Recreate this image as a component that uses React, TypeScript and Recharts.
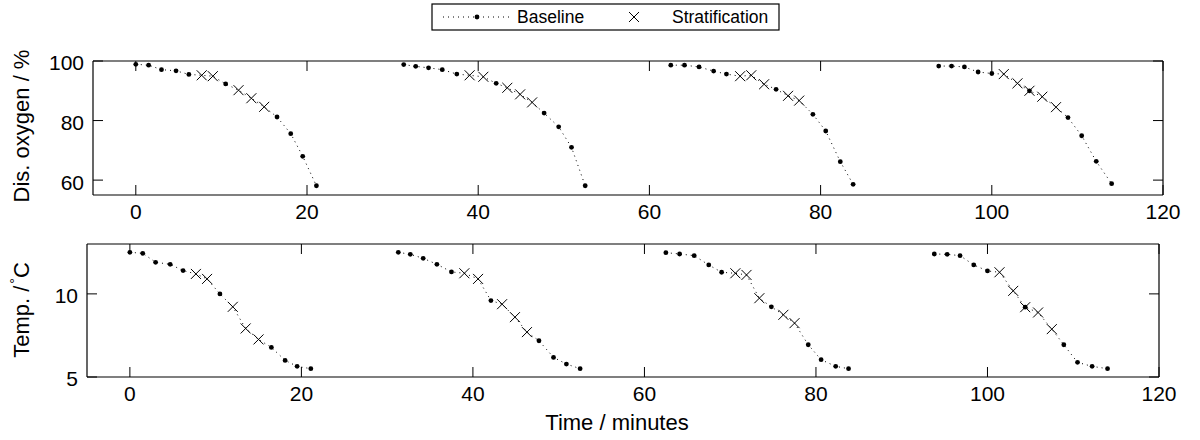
import React from 'react';
import { LineChart, Line, XAxis, YAxis, ReferenceLine } from 'recharts';

// four cooling runs, each sampled about every 1.5 minutes
const cycleTimes = [
  [0, 1.5, 3.0, 4.7, 6.2, 7.7, 9.0, 10.5, 12.0, 13.5, 15.0, 16.5, 18.1, 19.5, 21.1],
  [31.3, 32.7, 34.2, 35.8, 37.5, 39.0, 40.6, 42.1, 43.4, 44.9, 46.3, 47.7, 49.4, 50.9, 52.5],
  [62.5, 64.1, 65.8, 67.5, 69.0, 70.6, 71.9, 73.4, 74.8, 76.2, 77.5, 79.1, 80.6, 82.3, 83.8],
  [93.8, 95.3, 96.8, 98.4, 100.0, 101.4, 103.0, 104.4, 105.9, 107.5, 108.9, 110.5, 112.2, 114.0],
];

const oxygen = [
  [98.9, 98.6, 97.1, 96.7, 95.5, 95.2, 94.9, 92.3, 90.2, 87.5, 84.6, 81.2, 75.6, 68.0, 58.1],
  [98.8, 98.2, 97.7, 97.1, 95.6, 95.2, 94.7, 92.5, 91.0, 88.8, 86.1, 82.5, 77.9, 71.0, 58.1],
  [98.6, 98.6, 98.0, 96.6, 95.6, 94.9, 95.2, 92.2, 90.5, 88.3, 86.7, 82.1, 76.5, 66.2, 58.6],
  [98.3, 98.3, 98.0, 96.3, 95.8, 95.6, 92.5, 90.0, 88.0, 84.5, 81.0, 74.9, 66.3, 58.8],
];

const temperature = [
  [12.5, 12.44, 11.9, 11.78, 11.4, 11.2, 10.9, 10.0, 9.22, 7.92, 7.26, 6.78, 6.0, 5.64, 5.5],
  [12.5, 12.38, 12.14, 11.78, 11.32, 11.24, 10.9, 9.6, 9.38, 8.6, 7.7, 7.18, 6.18, 5.78, 5.5],
  [12.48, 12.4, 12.3, 11.74, 11.3, 11.24, 11.14, 9.74, 9.22, 8.74, 8.24, 6.94, 6.04, 5.64, 5.5],
  [12.4, 12.38, 12.3, 11.74, 11.38, 11.3, 10.18, 9.2, 8.88, 7.88, 6.94, 5.88, 5.64, 5.5],
];

// sample indices flagged as stratification, per run
const stratIdx = [
  [5, 6, 8, 9, 10],
  [5, 6, 8, 9, 10],
  [5, 6, 7, 9, 10],
  [5, 6, 7, 8, 9],
];
// baseline dots that still show under a cross: [run, index]
const extraDots = [[3, 7]];

const xTicks = [0, 20, 40, 60, 80, 100, 120];
const o2Ticks = [60, 80, 100];
const tempTicks = [5, 10];

const rows: any[] = [];
cycleTimes.forEach((ts, c) => {
  if (c > 0) {
    const prev = cycleTimes[c - 1];
    rows.push({ t: (prev[prev.length - 1] + ts[0]) / 2, o2: null, temp: null });
  }
  ts.forEach((t, i) => {
    const strat = stratIdx[c].includes(i);
    const dot = !strat || extraDots.some(([ec, ei]) => ec === c && ei === i);
    rows.push({
      t,
      o2: oxygen[c][i],
      temp: temperature[c][i],
      o2Dot: dot ? oxygen[c][i] : null,
      tempDot: dot ? temperature[c][i] : null,
      o2Strat: strat ? oxygen[c][i] : null,
      tempStrat: strat ? temperature[c][i] : null,
    });
  });
});

const FONT = '"Liberation Sans", Arial, Helvetica, sans-serif';
const TICK_LEN = 10;

const renderDot = (p: any) => {
  if (p.cx == null || p.cy == null || p.value == null) return <g key={p.key} />;
  return <circle key={p.key} cx={p.cx} cy={p.cy} r={2.4} fill="#000" />;
};

const renderCross = (p: any) => {
  if (p.cx == null || p.cy == null || p.value == null) return <g key={p.key} />;
  const { cx, cy } = p;
  const s = 5;
  return (
    <path
      key={p.key}
      d={`M${cx - s},${cy - s}L${cx + s},${cy + s}M${cx - s},${cy + s}L${cx + s},${cy - s}`}
      stroke="#000"
      strokeWidth={1}
      fill="none"
    />
  );
};

// inward tick marks: a reference line spans the plot, we only keep its two ends
const vTick = (p: any) => {
  const { x1, y1, y2 } = p;
  const top = Math.min(y1, y2);
  const bot = Math.max(y1, y2);
  return (
    <path d={`M${x1},${top}V${top + TICK_LEN}M${x1},${bot}V${bot - TICK_LEN}`} stroke="#000" strokeWidth={1} fill="none" />
  );
};
const hTick = (p: any) => {
  const { x1, x2, y1 } = p;
  const l = Math.min(x1, x2);
  const r = Math.max(x1, x2);
  return <path d={`M${l},${y1}H${l + TICK_LEN}M${r},${y1}H${r - TICK_LEN}`} stroke="#000" strokeWidth={1} fill="none" />;
};

// axes are 1px thick so recharts still draws them (labels sit outside the box)
const axisCommon = {
  stroke: '#000',
  axisLine: { stroke: '#000', strokeWidth: 1.2 },
  tickLine: false,
  tickSize: 0,
  tickMargin: 9,
  allowDataOverflow: true,
};

interface PanelProps {
  height: number;
  margin: { top: number; left: number; right: number; bottom: number };
  valueKey: string;
  dotKey: string;
  stratKey: string;
  domain: [number, number];
  ticks: number[];
}

const Panel: React.FC<PanelProps> = ({ height, margin, valueKey, dotKey, stratKey, domain, ticks }) => (
  <LineChart width={1200} height={height} data={rows} margin={margin}>
    <XAxis
      {...axisCommon}
      dataKey="t"
      type="number"
      domain={[-5, 120]}
      ticks={xTicks}
      height={1}
      tick={{ fill: '#000', fontSize: 21 }}
    />
    <XAxis {...axisCommon} xAxisId="top" orientation="top" dataKey="t" type="number" domain={[-5, 120]} height={1} tick={false} />
    <YAxis
      {...axisCommon}
      type="number"
      domain={domain}
      ticks={ticks}
      width={1}
      tick={{ fill: '#000', fontSize: 21, dy: 2 }}
    />
    <YAxis {...axisCommon} yAxisId="right" orientation="right" type="number" domain={domain} width={1} tick={false} />
    {xTicks.map((v) => (
      <ReferenceLine key={`x${v}`} x={v} stroke="#000" shape={vTick} />
    ))}
    {ticks.map((v) => (
      <ReferenceLine key={`y${v}`} y={v} stroke="#000" shape={hTick} />
    ))}
    <Line
      dataKey={valueKey}
      stroke="#000"
      strokeWidth={1}
      strokeDasharray="1 4"
      dot={false}
      activeDot={false}
      isAnimationActive={false}
    />
    <Line dataKey={dotKey} stroke="none" dot={renderDot} activeDot={false} isAnimationActive={false} />
    <Line dataKey={stratKey} stroke="none" dot={renderCross} activeDot={false} isAnimationActive={false} />
  </LineChart>
);

const labelStyle: React.CSSProperties = {
  position: 'absolute',
  fontSize: 22,
  whiteSpace: 'nowrap',
  color: '#000',
};

export default function App() {
  return (
    <div
      style={{
        position: 'absolute',
        left: 0,
        top: 0,
        width: 1200,
        height: 440,
        background: '#fff',
        fontFamily: FONT,
      }}
    >
      <div style={{ position: 'absolute', left: 0, top: 0 }}>
        <Panel
          height={230}
          margin={{ top: 60, left: 92, right: 36, bottom: 34 }}
          valueKey="o2"
          dotKey="o2Dot"
          stratKey="o2Strat"
          domain={[55, 100]}
          ticks={o2Ticks}
        />
      </div>
      <div style={{ position: 'absolute', left: 0, top: 230 }}>
        <Panel
          height={210}
          margin={{ top: 13, left: 86, right: 40, bottom: 62 }}
          valueKey="temp"
          dotKey="tempDot"
          stratKey="tempStrat"
          domain={[5, 13]}
          ticks={tempTicks}
        />
      </div>

      {/* axis titles */}
      <div style={{ ...labelStyle, left: 22, top: 126, transform: 'translate(-50%, -50%) rotate(-90deg)' }}>
        Dis. oxygen / %
      </div>
      <div style={{ ...labelStyle, left: 22, top: 310, transform: 'translate(-50%, -50%) rotate(-90deg)' }}>
        Temp. /<span style={{ fontSize: 14, position: 'relative', top: -9, marginLeft: 2 }}>°</span>C
      </div>
      <div style={{ ...labelStyle, left: 617, top: 423, transform: 'translate(-50%, -50%)' }}>Time / minutes</div>

      {/* legend */}
      <svg width={349} height={28} style={{ position: 'absolute', left: 431, top: 3 }}>
        <rect x={1} y={1} width={347} height={26} fill="#fff" stroke="#000" strokeWidth={1.2} />
        <line x1={12} y1={14} x2={78} y2={14} stroke="#000" strokeWidth={1} strokeDasharray="1 4" />
        <circle cx={46} cy={14} r={2.4} fill="#000" />
        <text x={86} y={20} fontSize={17.5} fill="#000" fontFamily={FONT}>
          Baseline
        </text>
        <path d="M198,9L208,19M198,19L208,9" stroke="#000" strokeWidth={1} />
        <text x={241} y={20} fontSize={17.5} fill="#000" fontFamily={FONT}>
          Stratification
        </text>
      </svg>
    </div>
  );
}
